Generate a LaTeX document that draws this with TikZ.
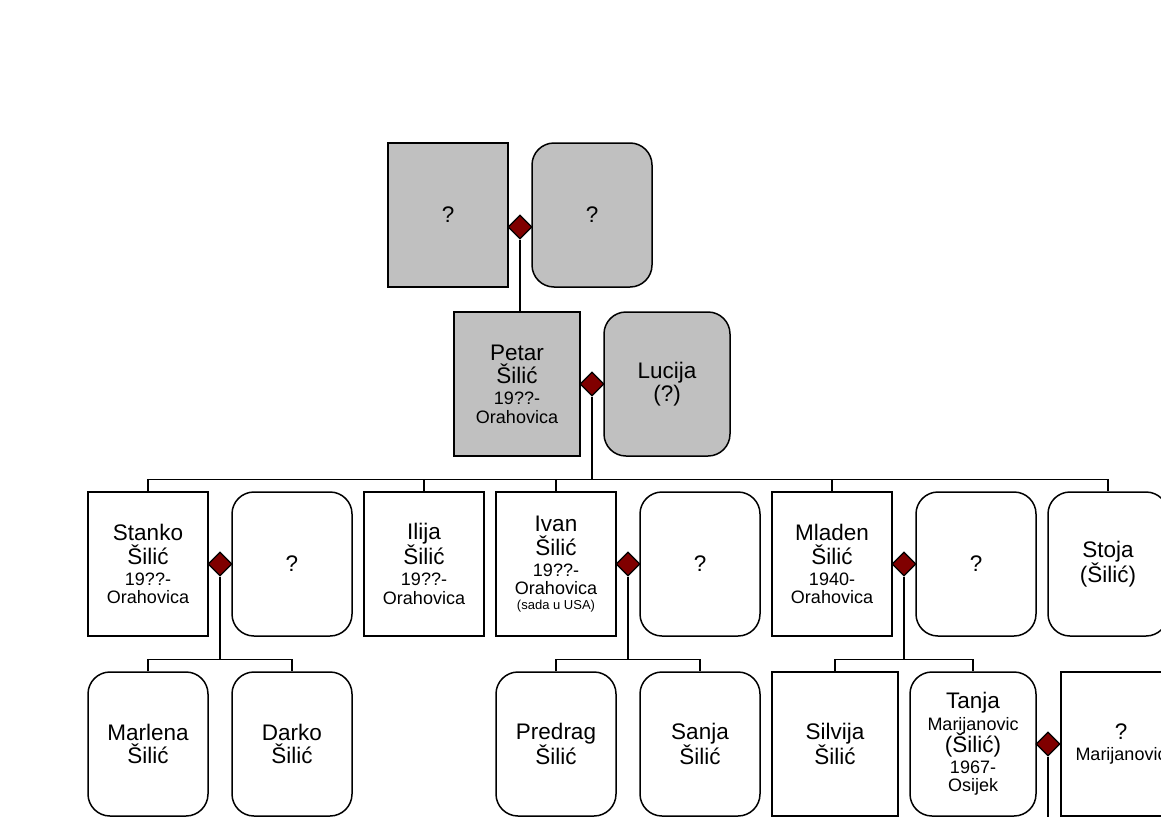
\documentclass[tikz,border=0pt]{standalone}
\usepackage{fontspec}
\setmainfont{Liberation Sans}
\usetikzlibrary{shapes.geometric}
\newcommand\nm{\fontsize{22.5}{23.5}\selectfont}
\newcommand\sm{\fontsize{18}{19}\selectfont}
\newcommand\xs{\fontsize{13}{14.5}\selectfont}
\definecolor{gfill}{HTML}{C0C0C0}
\definecolor{dred}{HTML}{800000}
\tikzset{
  person/.style={draw=black, line width=1.5pt, inner sep=0pt, align=center,
    font=\nm, minimum height=144pt, minimum width=#1},
  person/.default=120pt,
  male/.style={person=#1},
  male/.default=120pt,
  female/.style={person=#1, rounded corners=22pt},
  female/.default=120pt,
  gray/.style={fill=gfill},
  dia/.style={diamond, draw=black, line width=1.2pt, fill=dred,
    minimum width=24pt, minimum height=24pt, inner sep=0pt, aspect=1},
  conn/.style={draw=black, line width=1.5pt}
}
\begin{document}
\begin{tikzpicture}[x=1pt,y=-1pt]
\useasboundingbox (0,0) rectangle (1161,816);
\clip (0,0) rectangle (1161,816);
% generation 0
\node[male, gray] (q1) at (448,215) {?};
\node[female, gray] (q2) at (592,215) {?};
% generation 1
\node[male=126pt, gray] (petar) at (517,384) {Petar\\Šilić\\[-2.5pt]\sm 19??-\\[-5pt]\sm Orahovica};
\node[female=126pt, gray] (lucija) at (667,384) {Lucija\\(?)};
% generation 2
\node[male] (stanko) at (148,564) {Stanko\\Šilić\\[-2.5pt]\sm 19??-\\[-5pt]\sm Orahovica};
\node[female] (stankosp) at (292,564) {?};
\node[male] (ilija) at (424,564) {Ilija\\Šilić\\[-2.5pt]\sm 19??-\\[-5pt]\sm Orahovica};
\node[male] (ivan) at (556,564) {Ivan\\Šilić\\[-2.5pt]\sm 19??-\\[-5pt]\sm Orahovica\\[-9pt]\xs (sada u USA)};
\node[female] (ivansp) at (700,564) {?};
\node[male] (mladen) at (832,564) {Mladen\\Šilić\\[-2.5pt]\sm 1940-\\[-5pt]\sm Orahovica};
\node[female] (mladensp) at (976,564) {?};
\node[female] (stoja) at (1108,564) {Stoja\\(Šilić)};
% generation 3
\node[female] (marlena) at (148,744) {Marlena\\Šilić};
\node[female] (darko) at (292,744) {Darko\\Šilić};
\node[female] (predrag) at (556,744) {Predrag\\Šilić};
\node[female] (sanja) at (700,744) {Sanja\\Šilić};
\node[male=126pt] (silvija) at (835,744) {Silvija\\Šilić};
\node[female=126pt] (tanja) at (973,744) {Tanja\\[-2pt]\sm Marijanovic\\[-1.5pt](Šilić)\\[-2.5pt]\sm 1967-\\[-5pt]\sm Osijek};
\node[male] (tanjasp) at (1121,744) {?\\[-2.5pt]\sm Marijanovic};
% diamonds
\node[dia] (d0) at (520,227) {};
\node[dia] (d1) at (592,384) {};
\node[dia] (d2) at (220,564) {};
\node[dia] (d3) at (628,564) {};
\node[dia] (d4) at (904,564) {};
\node[dia] (d5) at (1048,744) {};
% bus coordinates
\coordinate (b1) at (592,480);
\coordinate (b2) at (220,660);
\coordinate (b3) at (628,660);
\coordinate (b4) at (904,660);
\coordinate (b5) at (1048,830);
% connectors
\draw[conn] (d0.south) -- (d0.south |- petar.north);
\draw[conn] (d1.south) -- (b1);
\draw[conn] (stanko.north) -- ++(0,-12) -| (stoja.north);
\draw[conn] (ilija.north) -- ++(0,-12);
\draw[conn] (ivan.north) -- ++(0,-12);
\draw[conn] (mladen.north) -- ++(0,-12);
\draw[conn] (d2.south) -- (b2);
\draw[conn] (marlena.north) -- ++(0,-12) -| (darko.north);
\draw[conn] (d3.south) -- (b3);
\draw[conn] (predrag.north) -- ++(0,-12) -| (sanja.north);
\draw[conn] (d4.south) -- (b4);
\draw[conn] (silvija.north) -- ++(0,-12) -| (tanja.north);
\draw[conn] (d5.south) -- (b5);
\end{tikzpicture}
\end{document}
